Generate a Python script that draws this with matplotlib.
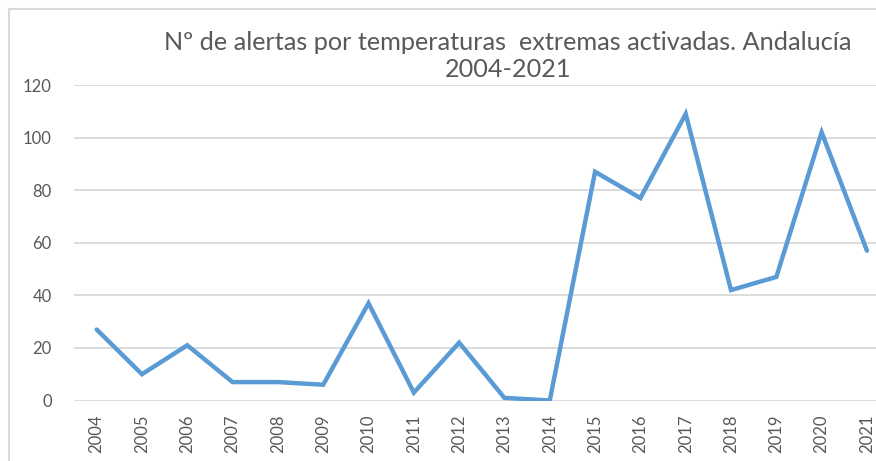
import matplotlib.pyplot as plt
from matplotlib.patches import Rectangle

years = ['2004', '2005', '2006', '2007', '2008', '2009', '2010', '2011', '2012',
         '2013', '2014', '2015', '2016', '2017', '2018', '2019', '2020', '2021']
alertas = [27, 10, 21, 7, 7, 6, 37, 3, 22, 1, 0, 87, 77, 109, 42, 47, 102, 57]

plt.rcParams['font.family'] = ['Lato', 'DejaVu Sans']

fig = plt.figure(figsize=(8.76, 4.61), dpi=100)
ax = fig.add_axes([74 / 876, 60.5 / 461, 815.6 / 876, 315.5 / 461])

x = range(len(years))
ax.plot(x, alertas, color='#5B9BD5', linewidth=3.2, solid_capstyle='round',
        solid_joinstyle='miter')

ax.set_xlim(-0.5, len(years) - 0.5)
ax.set_ylim(0, 120)
ax.set_yticks(range(0, 121, 20))
ax.set_xticks(list(x))
ax.set_xticklabels(years, rotation=90)
ax.grid(axis='y', color='#D9D9D9', linewidth=1.3)
ax.set_axisbelow(True)
for s in ax.spines.values():
    s.set_visible(False)
ax.tick_params(length=0, labelsize=12, colors='#595959')
ax.tick_params(axis='y', pad=16)
ax.tick_params(axis='x', pad=10)

fig.text(508 / 876, 1 - 56 / 461,
         'Nº de alertas por temperaturas  extremas activadas. Andalucía\n2004-2021',
         ha='center', va='center', fontsize=18.2, color='#595959',
         linespacing=1.25)

fig.patches.append(Rectangle((9 / 876, -0.1), 1.2, 1 - 9 / 461 + 0.1,
                             transform=fig.transFigure, fill=False,
                             edgecolor='#D9D9D9', linewidth=1.5))

fig.savefig('out.png', dpi=100)
